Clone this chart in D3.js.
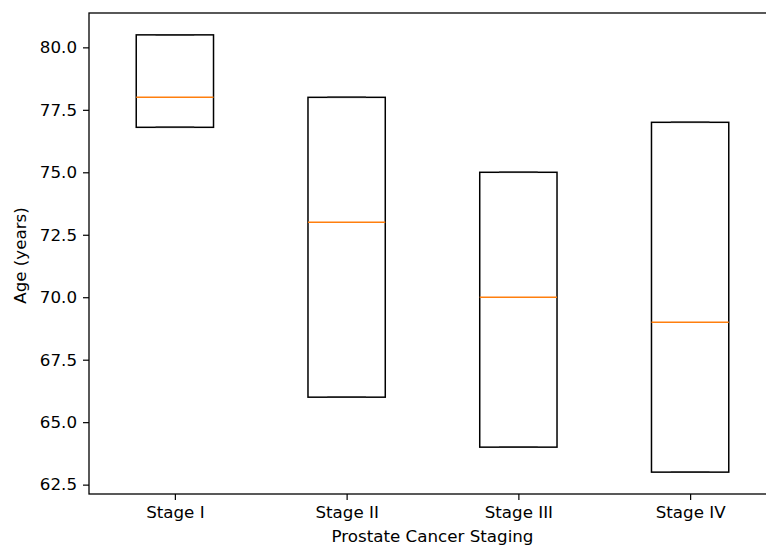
<!DOCTYPE html>
<html>
<head>
<meta charset="utf-8">
<script src="https://cdn.jsdelivr.net/npm/d3@7"></script>
<style>
  body { margin: 0; background: #fff; }
  svg { display: block; }
  text { font-family: "DejaVu Sans", sans-serif; fill: #000; }
</style>
</head>
<body>
<div id="box"></div>
<script>
// data
var stages = ["Stage I", "Stage II", "Stage III", "Stage IV"];
var q1 = [76.8, 66, 64, 63];
var medians = [78, 73, 70, 69];
var q3 = [80.5, 78, 75, 77];
var lowWhisker = [76.8, 66, 64, 63];
var highWhisker = [80.5, 78, 75, 77];
var yTicks = [62.5, 65.0, 67.5, 70.0, 72.5, 75.0, 77.5, 80.0];

var W = 766, H = 548;
var margin = {left: 89, right: 776, top: 13, bottom: 494};

var svg = d3.select("#box")
  .append("svg")
    .attr("width", W)
    .attr("height", H);

var x = d3.scaleLinear()
    .domain([0.5, stages.length + 0.5])
    .range([margin.left, margin.right]);

var y = d3.scaleLinear()
    .domain([62.125, 81.375])
    .range([margin.bottom, margin.top]);

var boxW = 0.45;

// y axis
svg.append("g")
    .attr("transform", "translate(" + margin.left + ",0)")
    .call(d3.axisLeft(y).tickValues(yTicks).tickFormat(d3.format(".1f")).tickSize(6).tickPadding(6))
    .call(g => g.select(".domain").remove())
    .call(g => g.selectAll("line").attr("stroke", "#000").attr("stroke-width", 1.2))
    .call(g => g.selectAll("text").style("font-size", "16.7px").attr("font-family", null).attr("fill", "#000"));

// x axis
svg.append("g")
    .attr("transform", "translate(0," + margin.bottom + ")")
    .call(d3.axisBottom(x).tickValues(d3.range(1, stages.length + 1)).tickFormat(d => stages[d - 1]).tickSize(6).tickPadding(6))
    .call(g => g.select(".domain").remove())
    .call(g => g.selectAll("line").attr("stroke", "#000").attr("stroke-width", 1.2))
    .call(g => g.selectAll("text").style("font-size", "16.7px").attr("font-family", null).attr("fill", "#000").attr("dy", "0.71em"));

// frame (right side falls outside the picture)
svg.append("rect")
    .attr("x", margin.left)
    .attr("y", margin.top)
    .attr("width", margin.right - margin.left)
    .attr("height", margin.bottom - margin.top)
    .attr("fill", "none")
    .attr("stroke", "#000")
    .attr("stroke-width", 1.3);

// boxes
var boxes = svg.selectAll(".bx")
  .data(stages)
  .enter()
  .append("g")
    .attr("class", "bx");

boxes.append("rect")
    .attr("x", (d, i) => x(i + 1 - boxW / 2))
    .attr("y", (d, i) => y(q3[i]))
    .attr("width", x(1 + boxW) - x(1))
    .attr("height", (d, i) => y(q1[i]) - y(q3[i]))
    .attr("fill", "none")
    .attr("stroke", "#000")
    .attr("stroke-width", 1.5);

// whiskers
boxes.append("line")
    .attr("x1", (d, i) => x(i + 1)).attr("x2", (d, i) => x(i + 1))
    .attr("y1", (d, i) => y(q1[i])).attr("y2", (d, i) => y(lowWhisker[i]))
    .attr("stroke", "#000").attr("stroke-width", 1.5);
boxes.append("line")
    .attr("x1", (d, i) => x(i + 1)).attr("x2", (d, i) => x(i + 1))
    .attr("y1", (d, i) => y(q3[i])).attr("y2", (d, i) => y(highWhisker[i]))
    .attr("stroke", "#000").attr("stroke-width", 1.5);

// caps
boxes.append("line")
    .attr("x1", (d, i) => x(i + 1 - boxW / 4)).attr("x2", (d, i) => x(i + 1 + boxW / 4))
    .attr("y1", (d, i) => y(lowWhisker[i])).attr("y2", (d, i) => y(lowWhisker[i]))
    .attr("stroke", "#222").attr("stroke-width", 1.5);
boxes.append("line")
    .attr("x1", (d, i) => x(i + 1 - boxW / 4)).attr("x2", (d, i) => x(i + 1 + boxW / 4))
    .attr("y1", (d, i) => y(highWhisker[i])).attr("y2", (d, i) => y(highWhisker[i]))
    .attr("stroke", "#222").attr("stroke-width", 1.5);

// medians
boxes.append("line")
    .attr("x1", (d, i) => x(i + 1 - boxW / 2)).attr("x2", (d, i) => x(i + 1 + boxW / 2))
    .attr("y1", (d, i) => y(medians[i])).attr("y2", (d, i) => y(medians[i]))
    .attr("stroke", "#ff7f0e").attr("stroke-width", 1.5);

// axis labels
svg.append("text")
    .attr("x", (margin.left + margin.right) / 2)
    .attr("y", 542)
    .attr("text-anchor", "middle")
    .style("font-size", "16.7px")
    .text("Prostate Cancer Staging");

svg.append("text")
    .attr("transform", "translate(25.5," + ((margin.top + margin.bottom) / 2 + 2) + ")rotate(-90)")
    .attr("text-anchor", "middle")
    .style("font-size", "16.7px")
    .text("Age (years)");
</script>
</body>
</html>
